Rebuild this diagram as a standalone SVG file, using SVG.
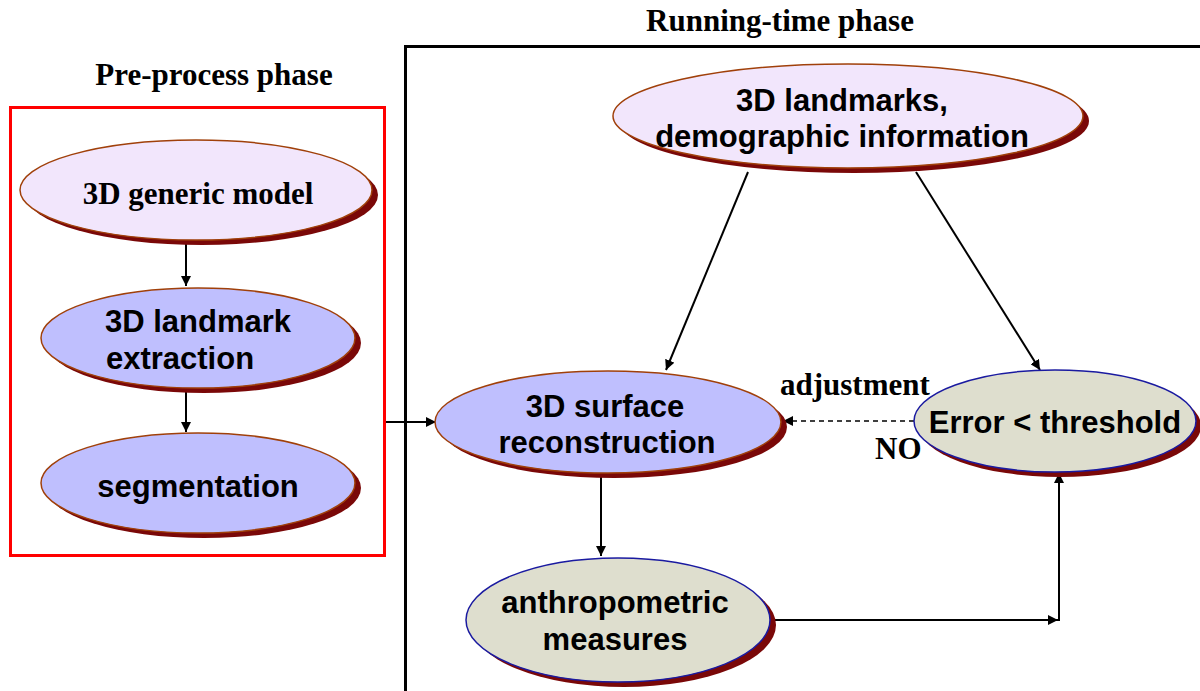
<svg xmlns="http://www.w3.org/2000/svg" width="1200" height="691" viewBox="0 0 1200 691">
<style>
.title{font-family:"Liberation Serif",serif;font-weight:bold;font-size:31px;fill:#000;text-anchor:middle}
.lbl{font-family:"Liberation Serif",serif;font-weight:bold;font-size:31px;fill:#000}
.ns{font-family:"Liberation Sans",Arial,sans-serif;font-weight:bold;font-size:31px;fill:#000;text-anchor:middle}
.nser{font-family:"Liberation Serif",serif;font-weight:bold;font-size:31px;fill:#000;text-anchor:middle}
.sh{fill:#7a0808}
.pale{fill:#f2e6fc;stroke:#a0400a;stroke-width:1.5}
.blue{fill:#bfbffe;stroke:#a0400a;stroke-width:1.5}
.gray{fill:#dedece;stroke:#1a1aa0;stroke-width:1.5}
.c{stroke:#000;stroke-width:2;fill:none}
</style>
<defs>
<marker id="ah" viewBox="0 0 10 10" refX="10" refY="5" markerWidth="10" markerHeight="10" markerUnits="userSpaceOnUse" orient="auto">
<path d="M0,0 L10,5 L0,10 z" fill="#000"/>
</marker>
</defs>
<rect width="1200" height="691" fill="#fff"/>
<g id="preprocess-frame">
<rect x="10.5" y="107.5" width="374" height="448" fill="none" stroke="#ff0000" stroke-width="3"/>
<text class="title" x="214" y="85">Pre-process phase</text>
</g>
<g id="runtime-frame">
<path d="M405.5,691 L405.5,46.5 L1200,46.5" fill="none" stroke="#000" stroke-width="3"/>
<text class="title" x="780" y="31">Running-time phase</text>
</g>
<g id="connectors">
<line class="c" x1="186" y1="244" x2="186" y2="286" marker-end="url(#ah)"/>
<line class="c" x1="186" y1="390" x2="186" y2="432" marker-end="url(#ah)"/>
<line class="c" x1="386" y1="422" x2="436" y2="422" marker-end="url(#ah)"/>
<line class="c" x1="748" y1="172" x2="666" y2="370" marker-end="url(#ah)"/>
<line class="c" x1="916" y1="172" x2="1040" y2="370" marker-end="url(#ah)"/>
<line x1="914" y1="421" x2="783" y2="421" stroke="#000" stroke-width="1.5" stroke-dasharray="5,4" marker-end="url(#ah)"/>
<line class="c" x1="601" y1="475" x2="601" y2="556" marker-end="url(#ah)"/>
<line class="c" x1="770" y1="620" x2="1058" y2="620" marker-end="url(#ah)"/>
<line class="c" x1="1059" y1="621" x2="1059" y2="473" marker-end="url(#ah)"/>
<text class="lbl" x="780" y="395">adjustment</text>
<text class="lbl" x="875" y="459">NO</text>
</g>
<g id="node-generic">
<ellipse class="sh" cx="202" cy="195" rx="176" ry="50"/>
<ellipse class="pale" cx="196" cy="190" rx="176" ry="50"/>
<text class="nser" x="198" y="204">3D generic model</text>
</g>
<g id="node-landmark-extraction">
<ellipse class="sh" cx="204" cy="343" rx="157" ry="50"/>
<ellipse class="blue" cx="198" cy="338" rx="157" ry="50"/>
<text class="ns" x="198" y="332">3D landmark</text>
<text class="ns" x="180" y="369">extraction</text>
</g>
<g id="node-segmentation">
<ellipse class="sh" cx="204" cy="488" rx="157" ry="50"/>
<ellipse class="blue" cx="198" cy="483" rx="157" ry="50"/>
<text class="ns" x="198" y="497">segmentation</text>
</g>
<g id="node-demographic">
<ellipse class="sh" cx="854" cy="121" rx="235" ry="52"/>
<ellipse class="pale" cx="848" cy="116" rx="235" ry="52"/>
<text class="ns" x="842" y="111">3D landmarks,</text>
<text class="ns" x="842" y="147">demographic information</text>
</g>
<g id="node-surface">
<ellipse class="sh" cx="614" cy="427" rx="173" ry="51"/>
<ellipse class="blue" cx="608" cy="422" rx="173" ry="51"/>
<text class="ns" x="605" y="417">3D surface</text>
<text class="ns" x="607" y="453">reconstruction</text>
</g>
<g id="node-error">
<ellipse class="sh" cx="1060" cy="426" rx="141" ry="51"/>
<ellipse class="gray" cx="1055" cy="421" rx="141" ry="51"/>
<text class="ns" x="1055" y="433">Error &lt; threshold</text>
</g>
<g id="node-anthropometric">
<ellipse class="sh" cx="624" cy="625" rx="152" ry="62"/>
<ellipse class="gray" cx="618" cy="620" rx="152" ry="62"/>
<text class="ns" x="615" y="613">anthropometric</text>
<text class="ns" x="615" y="650">measures</text>
</g>
</svg>
